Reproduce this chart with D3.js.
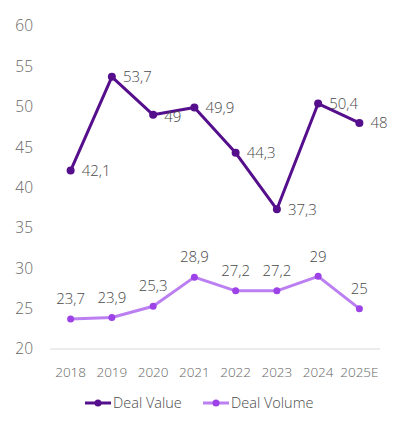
<!DOCTYPE html>
<html>
  <head>
    <meta charset="utf-8" />
    <script src="https://d3js.org/d3.v7.min.js"></script>
    <style>
      body {
        margin: 0;
        background: #fff;
      }
      svg text {
        font-family: "Open Sans", sans-serif;
        font-weight: 300;
        fill: #4a4a4a;
      }
    </style>
  </head>
  <body>
    <svg id="chart" width="397" height="448"></svg>
    <script>
      // data
      const years = ["2018", "2019", "2020", "2021", "2022", "2023", "2024", "2025E"];
      const dealValue = [42.1, 53.7, 49, 49.9, 44.3, 37.3, 50.4, 48];
      const dealVolume = [23.7, 23.9, 25.3, 28.9, 27.2, 27.2, 29, 25];
      const yTicks = [20, 25, 30, 35, 40, 45, 50, 55, 60];

      const darkColor = "#560f8c";
      const lightLine = "#bb7ff2";
      const lightDot = "#9c42e6";

      const svg = d3.select("#chart");

      const x = d3.scaleBand().domain(years).range([50, 380]);
      const y = d3.scaleLinear().domain([20, 60]).range([349, 26]);
      const cx = d => x(d) + x.bandwidth() / 2;

      // y axis labels
      svg
        .append("g")
        .selectAll("text")
        .data(yTicks)
        .join("text")
        .attr("x", 33)
        .attr("y", d => y(d))
        .attr("dy", "0.35em")
        .attr("text-anchor", "end")
        .style("font-size", "15.5px")
        .style("fill", "#666")
        .text(d => d);

      // baseline
      svg
        .append("line")
        .attr("x1", 50)
        .attr("x2", 380)
        .attr("y1", y(20))
        .attr("y2", y(20))
        .attr("stroke", "#d9d9d9")
        .attr("stroke-width", 1);

      // x labels
      svg
        .append("g")
        .selectAll("text")
        .data(years)
        .join("text")
        .attr("x", d => cx(d))
        .attr("y", 372)
        .attr("dy", "0.35em")
        .attr("text-anchor", "middle")
        .style("font-size", "13.5px")
        .style("fill", "#666")
        .text(d => d);

      const line = d3
        .line()
        .x((d, i) => cx(years[i]))
        .y(d => y(d));

      // deal volume
      svg
        .append("path")
        .datum(dealVolume)
        .attr("d", line)
        .attr("fill", "none")
        .attr("stroke", lightLine)
        .attr("stroke-width", 3)
        .attr("stroke-linejoin", "round");

      svg
        .append("g")
        .selectAll("circle")
        .data(dealVolume)
        .join("circle")
        .attr("cx", (d, i) => cx(years[i]))
        .attr("cy", d => y(d))
        .attr("r", 3.5)
        .attr("fill", lightDot);

      svg
        .append("g")
        .selectAll("text")
        .data(dealVolume)
        .join("text")
        .attr("x", (d, i) => cx(years[i]))
        .attr("y", d => y(d) - 20)
        .attr("dy", "0.35em")
        .attr("text-anchor", "middle")
        .style("font-size", "15px")
        .text(d => String(d).replace(".", ","));

      // deal value
      svg
        .append("path")
        .datum(dealValue)
        .attr("d", line)
        .attr("fill", "none")
        .attr("stroke", darkColor)
        .attr("stroke-width", 3)
        .attr("stroke-linejoin", "round");

      svg
        .append("g")
        .selectAll("circle")
        .data(dealValue)
        .join("circle")
        .attr("cx", (d, i) => cx(years[i]))
        .attr("cy", d => y(d))
        .attr("r", 4)
        .attr("fill", darkColor);

      svg
        .append("g")
        .selectAll("text")
        .data(dealValue)
        .join("text")
        .attr("x", (d, i) => cx(years[i]) + 11)
        .attr("y", (d, i) => y(d) + (i === 2 ? 2 : 0))
        .attr("dy", "0.35em")
        .attr("text-anchor", "start")
        .style("font-size", "15px")
        .text(d => String(d).replace(".", ","));

      // legend
      const legend = [
        { name: "Deal Value", line: darkColor, dot: darkColor, x: 85 },
        { name: "Deal Volume", line: lightLine, dot: lightDot, x: 203 }
      ];
      const lg = svg
        .append("g")
        .selectAll("g")
        .data(legend)
        .join("g")
        .attr("transform", d => `translate(${d.x},403)`);
      lg.append("line")
        .attr("x1", 0)
        .attr("x2", 26)
        .attr("stroke", d => d.line)
        .attr("stroke-width", 3);
      lg.append("circle")
        .attr("cx", 13)
        .attr("r", 3.5)
        .attr("fill", d => d.dot);
      lg.append("text")
        .attr("x", 28)
        .attr("dy", "0.35em")
        .style("font-size", "14.5px")
        .text(d => d.name);
    </script>
  </body>
</html>
